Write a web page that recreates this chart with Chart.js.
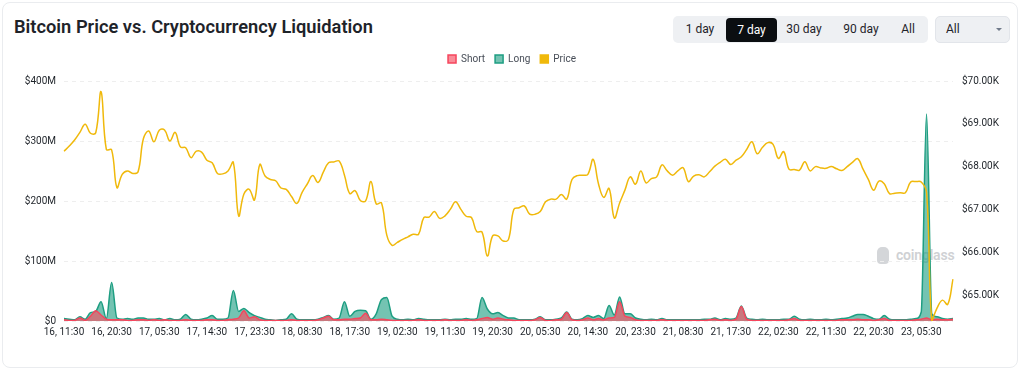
<!DOCTYPE html>
<html>
<head>
<meta charset="utf-8">
<script src="https://cdn.jsdelivr.net/npm/chart.js@4"></script>
<style>
  html, body { margin: 0; padding: 0; background: #ffffff; }
  body { width: 1024px; height: 372px; position: relative; overflow: hidden; font-family: Roboto, 'Noto Sans', sans-serif; }
  .card { position: absolute; left: 2px; top: 2px; width: 1016px; height: 366px; border: 1px solid #eaecef; border-radius: 8px; box-sizing: border-box; }
  .title { position: absolute; left: 14px; top: 16px; font-size: 18.3px; font-weight: 600; color: #1e2329; white-space: nowrap; }
  .group { position: absolute; left: 673px; top: 16px; width: 255px; height: 27px; background: #eef0f3; border-radius: 5px; }
  .btn { position: absolute; top: 0; height: 27px; line-height: 27px; font-size: 12px; color: #1e2329; text-align: center; white-space: nowrap; }
  .btn.active { top: 2px; height: 24px; line-height: 24px; background: #0b0e11; color: #ffffff; border-radius: 4px; }
  .dd { position: absolute; left: 935px; top: 16px; width: 75px; height: 27px; background: #eef0f3; border: 1px solid #e2e5ea; border-radius: 5px; box-sizing: border-box; }
  .dd span { position: absolute; left: 10px; top: 0; line-height: 25px; font-size: 12px; color: #1e2329; }
  .caret { position: absolute; left: 60px; top: 11px; width: 0; height: 0; border-left: 3px solid transparent; border-right: 3px solid transparent; border-top: 3px solid #707a8a; }
  .wm { position: absolute; left: 896px; top: 247px; font-size: 14px; font-weight: 600; color: #cfd1d4; letter-spacing: -0.2px; }
  .wmlogo { position: absolute; left: 877px; top: 247px; width: 12px; height: 17px; background: #d4d6d9; border-radius: 5px 5px 4px 4px; }
  canvas { position: absolute; left: 0; top: 0; }
</style>
</head>
<body>
<div class="card"></div>
<div class="title">Bitcoin Price vs. Cryptocurrency Liquidation</div>
<div class="group">
  <div class="btn" style="left:10px;width:34px;">1 day</div>
  <div class="btn active" style="left:53px;width:51px;">7 day</div>
  <div class="btn" style="left:111px;width:40px;">30 day</div>
  <div class="btn" style="left:167px;width:42px;">90 day</div>
  <div class="btn" style="left:225px;width:20px;">All</div>
</div>
<div class="dd"><span>All</span><div class="caret"></div></div>
<div class="wmlogo"></div>
<div class="wm">coinglass</div>
<canvas id="c" width="1024" height="372"></canvas>
<script>
const tickLabels = ['16, 11:30','16, 20:30','17, 05:30','17, 14:30','17, 23:30','18, 08:30','18, 17:30','19, 02:30','19, 11:30','19, 20:30','20, 05:30','20, 14:30','20, 23:30','21, 08:30','21, 17:30','22, 02:30','22, 11:30','22, 20:30','23, 05:30'];

const priceValues = [
  68360, 68480, 68620, 68800, 68990, 68780, 68790, 69750, 68400, 68390,
  67510, 67820, 67900, 67840, 67880, 68650, 68830, 68580, 68850, 68855,
  68600, 68800, 68460, 68440, 68210, 68360, 68340, 68150, 68090, 67840,
  67830, 67900, 68100, 66850, 67360, 67470, 67220, 68050, 67780, 67700,
  67670, 67500, 67470, 67300, 67140, 67400, 67600, 67790, 67630, 67870,
  68090, 68110, 68130, 67800, 67370, 67440, 67210, 67200, 67650, 67130,
  67150, 66400, 66160, 66230, 66300, 66360, 66420, 66420, 66810, 66820,
  66950, 66790, 66850, 67000, 67180, 67000, 66840, 66810, 66480, 66470,
  65910, 66380, 66380, 66260, 66300, 67000, 67040, 67080, 66890, 66885,
  66950, 67180, 67240, 67240, 67350, 67240, 67700, 67790, 67800, 67820,
  68170, 67600, 67280, 67490, 66800, 67150, 67450, 67760, 67590, 67900,
  67620, 67720, 67760, 68040, 67900, 67800, 67900, 67975, 67650, 67780,
  67810, 67760, 67880, 68010, 68100, 68170, 68050, 68150, 68230, 68400,
  68580, 68300, 68450, 68560, 68520, 68190, 68350, 67940, 67930, 67920,
  68115, 67900, 68000, 67970, 67960, 68000, 67950, 67910, 68000, 68100,
  68185, 67940, 67700, 67450, 67660, 67600, 67370, 67380, 67390, 67390,
  67640, 67650, 67640, 67400, 64393, 64700, 64880, 64780, 65370
];

// liquidations in $M
const longValues = [
  4, 3, 2, 7, 3, 14, 16, 32, 4, 64,
  5, 3, 4, 3, 5, 5, 3, 3, 4, 2,
  4, 2, 3, 11, 3, 2, 3, 5, 9, 3,
  3, 5, 51, 16, 21, 14, 9, 6, 3, 2,
  1, 2, 3, 12, 3, 2, 2, 2, 3, 6,
  9, 3, 5, 32, 8, 16, 18, 17, 3, 12,
  36, 39, 8, 3, 2, 3, 2, 4, 3, 2,
  2, 2, 3, 2, 3, 3, 4, 3, 4, 39,
  20, 12, 14, 9, 5, 5, 2, 2, 2, 3,
  7, 2, 2, 3, 5, 15, 3, 2, 4, 9,
  6, 9, 4, 26, 10, 40, 12, 12, 5, 3,
  2, 3, 2, 4, 2, 2, 2, 2, 2, 2,
  2, 3, 3, 5, 2, 4, 3, 5, 25, 5,
  3, 2, 3, 2, 2, 2, 3, 3, 8, 3,
  2, 3, 2, 2, 3, 2, 3, 4, 5, 8,
  11, 11, 8, 4, 3, 9, 3, 2, 2, 2,
  3, 4, 15, 345, 12, 7, 4, 3, 4
];

const shortValues = [
  2, 1, 1, 5, 1, 8, 17, 10, 3, 2,
  2, 2, 1, 1, 2, 2, 1, 2, 1, 2,
  1, 1, 1, 2, 1, 1, 1, 2, 2, 1,
  1, 2, 3, 5, 17, 5, 7, 2, 1, 1,
  1, 1, 1, 2, 1, 1, 1, 1, 2, 5,
  8, 2, 2, 3, 3, 4, 5, 13, 2, 2,
  3, 2, 1, 1, 1, 1, 1, 2, 1, 1,
  1, 1, 2, 1, 1, 1, 2, 1, 2, 4,
  6, 3, 5, 3, 2, 1, 1, 1, 1, 2,
  6, 1, 1, 2, 3, 14, 2, 1, 2, 5,
  2, 4, 2, 5, 6, 32, 8, 6, 2, 1,
  1, 1, 1, 2, 1, 1, 1, 1, 1, 1,
  1, 1, 2, 3, 1, 2, 1, 3, 24, 3,
  1, 1, 1, 1, 1, 1, 1, 2, 4, 1,
  1, 1, 1, 1, 1, 1, 1, 2, 2, 2,
  3, 2, 2, 1, 2, 4, 1, 1, 1, 1,
  1, 2, 3, 5, 2, 3, 2, 2, 3
];

const leftTicks = [0, 100, 200, 300, 400];
const rightTicks = [65000, 66000, 67000, 68000, 69000, 70000];
const LABEL_EVERY = 9;

const categories = priceValues.map((_, i) => (i % LABEL_EVERY === 0 ? tickLabels[i / LABEL_EVERY] : ''));

const tickFont = { family: "Roboto, 'Noto Sans', sans-serif", size: 10 };

const legendMargin = {
  id: 'legendMargin',
  afterInit(chart) {
    const fit = chart.legend.fit;
    chart.legend.fit = function () { fit.bind(chart.legend)(); this.height += 7; };
  }
};

new Chart(document.getElementById('c'), {
  type: 'line',
  data: {
    labels: categories,
    datasets: [
      {
        label: 'Short', data: shortValues, yAxisID: 'y', order: 1,
        borderColor: '#F6465D', backgroundColor: 'rgba(246,80,98,0.66)',
        fill: 'origin', borderWidth: 1.5, pointRadius: 0, cubicInterpolationMode: 'monotone'
      },
      {
        label: 'Long', data: longValues, yAxisID: 'y', order: 2,
        borderColor: '#1E9E82', backgroundColor: 'rgba(30,158,130,0.62)',
        fill: 'origin', borderWidth: 1.5, pointRadius: 0, cubicInterpolationMode: 'monotone'
      },
      {
        label: 'Price', data: priceValues, yAxisID: 'y1', order: 0,
        borderColor: '#F0B90B', backgroundColor: '#F0B90B',
        fill: false, borderWidth: 1.5, pointRadius: 0, tension: 0.4
      }
    ]
  },
  options: {
    responsive: false,
    animation: false,
    layout: { padding: { top: 44, left: 0, right: 0, bottom: 31 } },
    plugins: {
      legend: {
        position: 'top',
        labels: {
          boxWidth: 8, boxHeight: 8, padding: 10,
          color: '#474d57', font: { family: "Roboto, 'Noto Sans', sans-serif", size: 10 },
          sort: (a, b) => a.datasetIndex - b.datasetIndex
        }
      },
      tooltip: { enabled: false }
    },
    scales: {
      x: {
        type: 'category',
        grid: { display: false, drawTicks: false },
        border: { display: false },
        ticks: {
          autoSkip: false, maxRotation: 0, minRotation: 0, padding: 5,
          color: '#1e2329', font: tickFont,
          callback: function (v, i) { return categories[i] === '' ? null : categories[i]; }
        },
        afterFit: s => { s.height = 20; }
      },
      y: {
        position: 'left', min: 0, max: 400,
        grid: { color: '#eeeeee', drawTicks: false },
        border: { display: false, dash: [4, 4] },
        afterBuildTicks: s => { s.ticks = leftTicks.map(v => ({ value: v })); },
        ticks: {
          padding: 8, color: '#1e2329', font: tickFont,
          callback: v => (v === 0 ? '$0' : '$' + v + 'M')
        },
        afterFit: s => { s.width = 64; }
      },
      y1: {
        position: 'right', min: 64393, max: 70000,
        grid: { display: false, drawTicks: false },
        border: { display: false },
        afterBuildTicks: s => { s.ticks = rightTicks.map(v => ({ value: v })); },
        ticks: {
          padding: 9, color: '#1e2329', font: tickFont,
          callback: v => '$' + (v / 1000).toFixed(2) + 'K'
        },
        afterFit: s => { s.width = 71; }
      }
    }
  },
  plugins: [legendMargin]
});
</script>
</body>
</html>
